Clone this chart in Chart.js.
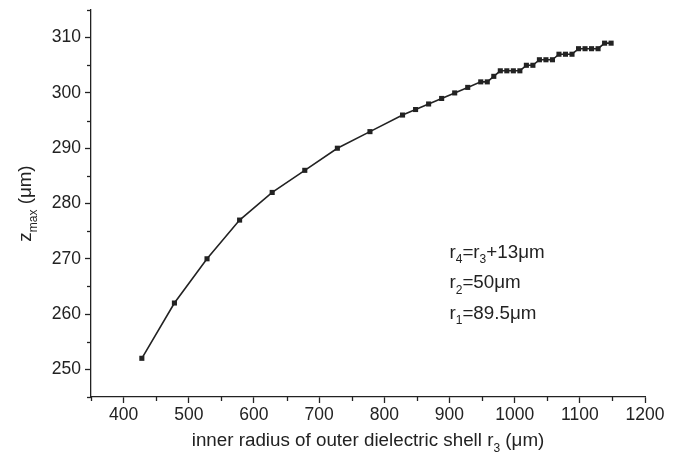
<!DOCTYPE html>
<html>
<head>
<meta charset="utf-8">
<script src="https://cdn.jsdelivr.net/npm/chart.js@4/dist/chart.umd.min.js"></script>
<style>
  html, body { margin: 0; padding: 0; background: #fff; }
  #wrap { width: 678px; height: 460px; position: relative; }
</style>
</head>
<body>
<div id="wrap"><canvas id="c" width="678" height="460"></canvas></div>
<script>
// ---- data ----
const r3 = [428, 478, 528, 578, 628, 678, 728, 778,
            828, 848, 868, 888, 908, 928,
            948, 958, 968,
            978, 988, 998, 1008,
            1018, 1028,
            1038, 1048, 1058,
            1068, 1078, 1088,
            1098, 1108, 1118, 1128,
            1138, 1148];
const zmax = [252, 262, 270, 277, 282, 286, 290, 293,
              296, 297, 298, 299, 300, 301,
              302, 302, 303,
              304, 304, 304, 304,
              305, 305,
              306, 306, 306,
              307, 307, 307,
              308, 308, 308, 308,
              309, 309];

const xRange = [350, 1200];
const yRange = [245, 315];
const xMajorTicks = [400, 500, 600, 700, 800, 900, 1000, 1100, 1200];
const yMajorTicks = [250, 260, 270, 280, 290, 300, 310];

// rich text: segments, sub=true -> subscript
const xTitle = [{t: 'inner radius of outer dielectric shell r'}, {t: '3', sub: true}, {t: ' (μm)'}];
const yTitle = [{t: 'z'}, {t: 'max', sub: true}, {t: ' (μm)'}];
const noteLines = [
  [{t: 'r'}, {t: '4', sub: true}, {t: '=r'}, {t: '3', sub: true}, {t: '+13μm'}],
  [{t: 'r'}, {t: '2', sub: true}, {t: '=50μm'}],
  [{t: 'r'}, {t: '1', sub: true}, {t: '=89.5μm'}]
];
const noteAnchorX = 900;
const noteAnchorY = [271, 265.5, 260];

const INK = '#222222';
const FONT = '"Liberation Sans", Arial, Helvetica, sans-serif';
const TICK_SIZE = 17.5;
const TITLE_SIZE = 18.8;
const SUB_SIZE = 12;

function richWidth(ctx, segs, size, subSize) {
  let w = 0;
  for (const s of segs) {
    ctx.font = (s.sub ? subSize : size) + 'px ' + FONT;
    w += ctx.measureText(s.t).width;
  }
  return w;
}
function drawRich(ctx, segs, x, y, size, subSize, align) {
  const total = richWidth(ctx, segs, size, subSize);
  let cx = align === 'center' ? x - total / 2 : x;
  ctx.textBaseline = 'alphabetic';
  ctx.textAlign = 'left';
  for (const s of segs) {
    ctx.font = (s.sub ? subSize : size) + 'px ' + FONT;
    ctx.fillText(s.t, cx, s.sub ? y + size * 0.3 : y);
    cx += ctx.measureText(s.t).width;
  }
}

const decor = {
  id: 'decor',
  afterDraw(chart) {
    const ctx = chart.ctx;
    const xs = chart.scales.x, ys = chart.scales.y;
    const a = chart.chartArea;
    ctx.save();
    ctx.fillStyle = INK;
    ctx.strokeStyle = INK;
    ctx.lineWidth = 1.3;
    // minor ticks
    for (let v = xRange[0]; v <= xRange[1]; v += 50) {
      if (xMajorTicks.includes(v)) continue;
      const px = Math.round(xs.getPixelForValue(v)) + 0.5;
      ctx.beginPath(); ctx.moveTo(px, a.bottom); ctx.lineTo(px, a.bottom + 4); ctx.stroke();
    }
    for (let v = yRange[0]; v <= yRange[1]; v += 5) {
      if (yMajorTicks.includes(v)) continue;
      const py = Math.round(ys.getPixelForValue(v)) + 0.5;
      ctx.beginPath(); ctx.moveTo(a.left, py); ctx.lineTo(a.left - 4, py); ctx.stroke();
    }
    // x title
    drawRich(ctx, xTitle, (a.left + a.right) / 2, 446, TITLE_SIZE, SUB_SIZE, 'center');
    // y title (rotated)
    ctx.save();
    ctx.translate(31, (a.top + a.bottom) / 2);
    ctx.rotate(-Math.PI / 2);
    drawRich(ctx, yTitle, 0, 0, TITLE_SIZE, SUB_SIZE, 'center');
    ctx.restore();
    // note
    noteLines.forEach((segs, i) => {
      const px = xs.getPixelForValue(noteAnchorX);
      const py = ys.getPixelForValue(noteAnchorY[i]) + 4.5;
      drawRich(ctx, segs, px, py, TITLE_SIZE, SUB_SIZE, 'left');
    });
    ctx.restore();
  }
};

const points = r3.map((x, i) => ({x: x, y: zmax[i]}));

new Chart(document.getElementById('c'), {
  type: 'scatter',
  data: {
    datasets: [{
      data: points,
      showLine: true,
      borderColor: INK,
      borderWidth: 1.6,
      pointStyle: 'rect',
      pointRadius: 3.6,
      pointBorderWidth: 0,
      pointBackgroundColor: INK,
      pointBorderColor: INK,
      tension: 0
    }]
  },
  options: {
    responsive: false,
    animation: false,
    devicePixelRatio: 1,
    layout: { padding: { left: 0, right: 33, top: 10, bottom: 0 } },
    plugins: { legend: { display: false }, tooltip: { enabled: false } },
    scales: {
      x: {
        type: 'linear',
        min: xRange[0], max: xRange[1],
        border: { display: true, color: INK, width: 1.3 },
        grid: {
          drawOnChartArea: false, drawTicks: true, tickLength: 6, tickWidth: 1.3,
          tickColor: c => (c.tick && xMajorTicks.includes(c.tick.value)) ? INK : 'rgba(0,0,0,0)'
        },
        ticks: {
          stepSize: 50, autoSkip: false, maxRotation: 0, padding: 2,
          color: INK, font: { family: FONT, size: TICK_SIZE },
          callback: v => xMajorTicks.includes(v) ? String(v) : ''
        },
        afterFit: s => { s.height = 63; s.paddingLeft = 0; s.paddingRight = 0; }
      },
      y: {
        type: 'linear',
        min: yRange[0], max: yRange[1],
        border: { display: true, color: INK, width: 1.3 },
        grid: {
          drawOnChartArea: false, drawTicks: true, tickLength: 6, tickWidth: 1.3,
          tickColor: c => (c.tick && yMajorTicks.includes(c.tick.value)) ? INK : 'rgba(0,0,0,0)'
        },
        ticks: {
          stepSize: 5, autoSkip: false, padding: 4,
          color: INK, font: { family: FONT, size: TICK_SIZE },
          callback: v => yMajorTicks.includes(v) ? String(v) : ''
        },
        afterFit: s => { s.width = 91; s.paddingTop = 0; s.paddingBottom = 0; }
      }
    }
  },
  plugins: [decor]
});
</script>
</body>
</html>
